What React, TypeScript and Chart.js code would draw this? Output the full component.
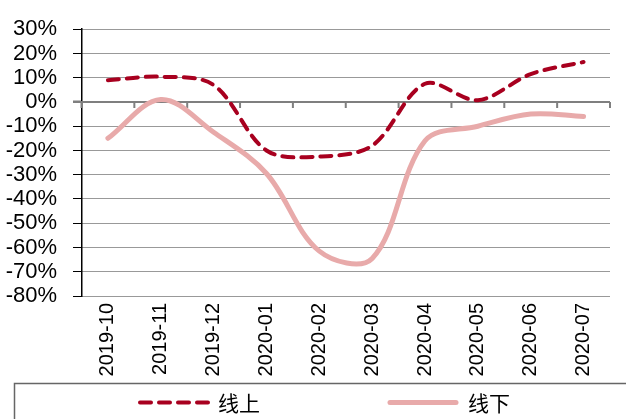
import React, { useEffect, useRef } from "react";
import { Chart, registerables } from "chart.js";

Chart.register(...registerables);

const categories = [
  "2019-10", "2019-11", "2019-12", "2020-01", "2020-02",
  "2020-03", "2020-04", "2020-05", "2020-06", "2020-07",
];
const onlineValues = [9, 10.4, 7, -20, -22.5, -18, 7.5, 0.7, 11.5, 16.5];
const offlineValues = [-15, 1, -12.5, -29.5, -61.5, -64.5, -16, -10, -5, -6];
const seriesNames = ["线上", "线下"];
const yMin = -80;
const yMax = 30;
const yStep = 10;

const onlineColor = "#A8001F";
const offlineColor = "#E8AAAA";
const tickFont = "'Liberation Sans', Arial, sans-serif";
const cjkFont = "'Noto Sans CJK SC', sans-serif";

const zeroLinePlugin = {
  id: "zeroLine",
  beforeDatasetsDraw(chart: any) {
    const { ctx, scales, chartArea } = chart;
    const x = scales.x;
    const y = scales.y;
    const y0 = y.getPixelForValue(0);
    ctx.save();
    ctx.strokeStyle = "#7F7F7F";
    ctx.lineWidth = 2;
    ctx.beginPath();
    ctx.moveTo(chartArea.left - 8.5, y0);
    ctx.lineTo(chartArea.right, y0);
    for (let i = 0; i <= categories.length; i++) {
      const px = x.getPixelForValue(i - 0.5);
      ctx.moveTo(px, y0);
      ctx.lineTo(px, y0 + 6);
    }
    ctx.stroke();
    ctx.restore();
  },
};

const legendPlugin = {
  id: "boxLegend",
  afterDraw(chart: any) {
    const { ctx } = chart;
    const ds = chart.data.datasets;
    ctx.save();
    ctx.strokeStyle = "#666666";
    ctx.lineWidth = 1.5;
    ctx.strokeRect(14.5, 383.5, 700, 100);

    const ly = 402.5;
    const items = [
      { x1: 140, x2: 208, tx: 218 },
      { x1: 390, x2: 456, tx: 468 },
    ];
    items.forEach((it, i) => {
      const d = ds[i];
      ctx.save();
      ctx.strokeStyle = d.borderColor;
      ctx.lineWidth = d.borderWidth;
      ctx.lineCap = "round";
      ctx.setLineDash(d.borderDash || []);
      ctx.beginPath();
      ctx.moveTo(it.x1, ly);
      ctx.lineTo(it.x2, ly);
      ctx.stroke();
      ctx.restore();
      ctx.fillStyle = "#000";
      ctx.font = "21px " + cjkFont;
      ctx.textBaseline = "middle";
      ctx.textAlign = "left";
      ctx.fillText(d.label, it.tx, ly + 1);
    });
    ctx.restore();
  },
};

export default function App() {
  const ref = useRef<HTMLCanvasElement | null>(null);

  useEffect(() => {
    if (!ref.current) return;
    const chart = new Chart(ref.current, {
      type: "line",
      data: {
        labels: categories,
        datasets: [
          {
            label: seriesNames[0],
            data: onlineValues,
            borderColor: onlineColor,
            backgroundColor: onlineColor,
            borderWidth: 4,
            borderDash: [11, 8],
            borderCapStyle: "round",
            pointRadius: 0,
            tension: 0.33,
            fill: false,
          },
          {
            label: seriesNames[1],
            data: offlineValues,
            borderColor: offlineColor,
            backgroundColor: offlineColor,
            borderWidth: 5,
            borderCapStyle: "round",
            pointRadius: 0,
            tension: 0.35,
            fill: false,
          },
        ],
      },
      options: {
        responsive: false,
        animation: false,
        layout: { padding: { left: 0, top: 23.5, right: 16, bottom: 0 } },
        plugins: {
          legend: { display: false },
          tooltip: { enabled: false },
        },
        scales: {
          x: {
            type: "category",
            offset: true,
            grid: { display: false, drawTicks: false },
            border: { display: false },
            ticks: {
              minRotation: 90,
              maxRotation: 90,
              autoSkip: false,
              padding: 7,
              color: "#000",
              font: { family: tickFont, size: 20 },
            },
            afterFit(scale: any) {
              scale.height = 123;
            },
          },
          y: {
            min: yMin,
            max: yMax,
            grid: {
              color: (c: any) => (c.tick && c.tick.value === 0 ? "rgba(0,0,0,0)" : "#333333"),
              lineWidth: 1,
              tickLength: 8.5,
              tickColor: (c: any) => (c.tick && c.tick.value === 0 ? "#7F7F7F" : "#000000"),
              tickWidth: (c: any) => (c.tick && c.tick.value === 0 ? 2 : 1),
            },
            border: { display: true, color: "#000", width: 1.5, dash: [1, 1] },
            ticks: {
              stepSize: yStep,
              autoSkip: false,
              padding: 16,
              color: "#000",
              font: { family: tickFont, size: 22 },
              callback: (v: any) => v + "%",
            },
            afterFit(scale: any) {
              scale.width = 81.5;
            },
          },
        },
      },
      plugins: [zeroLinePlugin, legendPlugin],
    });
    return () => chart.destroy();
  }, []);

  return (
    <div style={{ position: "fixed", left: 0, top: 0, width: 626, height: 419, background: "#fff" }}>
      <canvas ref={ref} width={626} height={419} style={{ display: "block" }} />
    </div>
  );
}
